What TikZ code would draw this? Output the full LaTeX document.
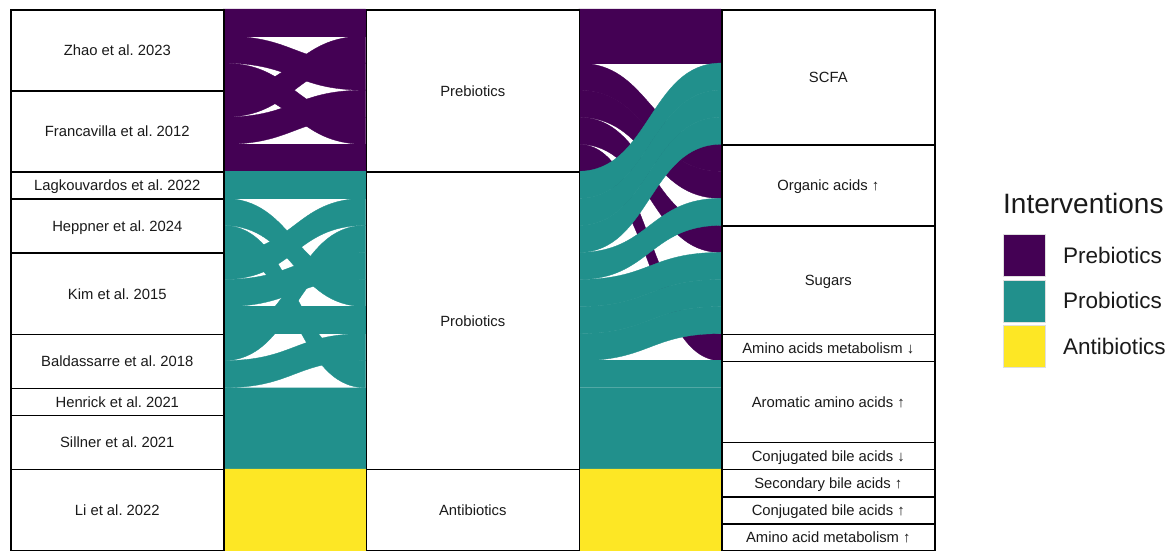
\documentclass[tikz,border=0pt]{standalone}
\usepackage{fontspec}
\setmainfont{Liberation Sans}
\frenchspacing
\definecolor{pre}{HTML}{440154}
\definecolor{pro}{HTML}{21908C}
\definecolor{anti}{HTML}{FDE725}
\definecolor{txt}{HTML}{1A1A1A}
\def\U{27.05}
\def\T{9}
\newcommand\flowband[5]{%
  \pgfmathsetmacro\fya{\T+\U*#3}%
  \pgfmathsetmacro\fyb{\T+\U*#4}%
  \pgfmathsetmacro\fyc{\fya+\U}%
  \pgfmathsetmacro\fyd{\fyb+\U}%
  \pgfmathsetmacro\fxm{(#1+#2)/2}%
  \filldraw[fill=#5, draw=#5, line width=0.35pt] (#1,\fya) .. controls (\fxm,\fya) and (\fxm,\fyb) .. (#2,\fyb) -- (#2,\fyd) .. controls (\fxm,\fyd) and (\fxm,\fyc) .. (#1,\fyc) -- cycle;%
}
\begin{document}
\begin{tikzpicture}[x=1pt,y=-1pt,
  box/.style={draw=black, line width=1.6pt, fill=white, minimum width=213pt,
    inner sep=0pt, text height=10.6pt, text depth=0pt,
    font=\fontsize{14.8}{16}\selectfont, text=txt, anchor=north west},
  legsq/.style={draw=gray!25, line width=0.5pt, minimum size=42pt, inner sep=0pt, anchor=north west},
  leglab/.style={anchor=base west, inner sep=0pt, text=txt, font=\fontsize{22.5}{24}\selectfont}
]
\useasboundingbox (0,0) rectangle (1175,551);
\fill[white] (0,0) rectangle (1175,551);

% flows between axis 1 and axis 2
\foreach \a/\b in {0/0,1/2,2/4,3/1,4/3,5/5} {\flowband{223}{365.5}{\a}{\b}{pre}}
\foreach \a/\b in {6/6,7/10,8/13,9/7,10/9,11/11,12/8,13/12,14/14,15/15,16/16} {\flowband{223}{365.5}{\a}{\b}{pro}}
\foreach \a/\b in {17/17,18/18,19/19} {\flowband{223}{365.5}{\a}{\b}{anti}}

% flows between axis 2 and axis 3
\foreach \a/\b in {0/0,1/1,2/5,3/6,4/8,5/12} {\flowband{578.5}{721}{\a}{\b}{pre}}
\foreach \a/\b in {6/2,7/3,8/4,9/7,10/9,11/10,12/11,13/13,14/14,15/15,16/16} {\flowband{578.5}{721}{\a}{\b}{pro}}
\foreach \a/\b in {17/17,18/18,19/19} {\flowband{578.5}{721}{\a}{\b}{anti}}

% axis 1 strata
\node[box, minimum height=3*\U pt] (zhao) at (10,\T+0*\U) {Zhao et al. 2023};
\node[box, minimum height=3*\U pt] (fran) at (10,\T+3*\U) {Francavilla et al. 2012};
\node[box, minimum height=1*\U pt] (lagk) at (10,\T+6*\U) {Lagkouvardos et al. 2022};
\node[box, minimum height=2*\U pt] (hepp) at (10,\T+7*\U) {Heppner et al. 2024};
\node[box, minimum height=3*\U pt] (kim) at (10,\T+9*\U) {Kim et al. 2015};
\node[box, minimum height=2*\U pt] (bald) at (10,\T+12*\U) {Baldassarre et al. 2018};
\node[box, minimum height=1*\U pt] (henr) at (10,\T+14*\U) {Henrick et al. 2021};
\node[box, minimum height=2*\U pt] (sill) at (10,\T+15*\U) {Sillner et al. 2021};
\node[box, minimum height=3*\U pt] (li) at (10,\T+17*\U) {Li et al. 2022};

% axis 2 strata
\node[box, minimum height=6*\U pt] (prebio) at (365.5,\T+0*\U) {Prebiotics};
\node[box, minimum height=11*\U pt] (probio) at (365.5,\T+6*\U) {Probiotics};
\node[box, minimum height=3*\U pt] (antibio) at (365.5,\T+17*\U) {Antibiotics};

% axis 3 strata
\node[box, minimum height=5*\U pt] (scfa) at (721,\T+0*\U) {SCFA};
\node[box, minimum height=3*\U pt] (orgac) at (721,\T+5*\U) {Organic acids ↑};
\node[box, minimum height=4*\U pt] (sugars) at (721,\T+8*\U) {Sugars};
\node[box, minimum height=1*\U pt] (aamd) at (721,\T+12*\U) {Amino acids metabolism ↓};
\node[box, minimum height=3*\U pt] (arom) at (721,\T+13*\U) {Aromatic amino acids ↑};
\node[box, minimum height=1*\U pt] (conjd) at (721,\T+16*\U) {Conjugated bile acids ↓};
\node[box, minimum height=1*\U pt] (secb) at (721,\T+17*\U) {Secondary bile acids ↑};
\node[box, minimum height=1*\U pt] (conju) at (721,\T+18*\U) {Conjugated bile acids ↑};
\node[box, minimum height=1*\U pt] (aamu) at (721,\T+19*\U) {Amino acid metabolism ↑};

% legend
\node[anchor=base west, inner sep=0pt, text=txt, font=\fontsize{28}{30}\selectfont] (legtitle) at (1003,213) {Interventions};
\node[legsq, fill=pre] (sqpre) at (1003,234) {};
\node[legsq, fill=pro] (sqpro) at (1003,279.5) {};
\node[legsq, fill=anti] (sqanti) at (1003,325) {};
\node[leglab] (labpre) at (1063,263) {Prebiotics};
\node[leglab] (labpro) at (1063,308.5) {Probiotics};
\node[leglab] (labanti) at (1063,354) {Antibiotics};
\end{tikzpicture}
\end{document}
